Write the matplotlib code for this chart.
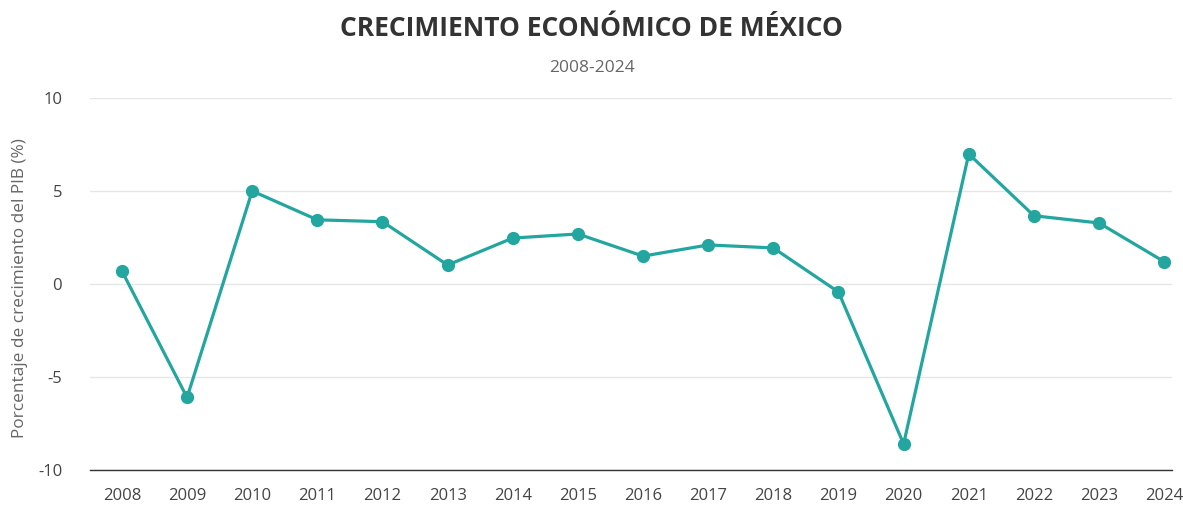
import matplotlib
matplotlib.use('Agg')
import matplotlib.pyplot as plt

years = [2008, 2009, 2010, 2011, 2012, 2013, 2014, 2015, 2016,
         2017, 2018, 2019, 2020, 2021, 2022, 2023, 2024]
growth = [0.7, -6.1, 5.0, 3.45, 3.35, 1.02, 2.47, 2.69, 1.5,
          2.1, 1.94, -0.43, -8.6, 6.99, 3.67, 3.28, 1.2]
yticks = [-10, -5, 0, 5, 10]

plt.rcParams['font.family'] = ['Open Sans', 'DejaVu Sans']
plt.rcParams['axes.unicode_minus'] = False

fig = plt.figure(figsize=(11.83, 5.11), dpi=100)
ax = fig.add_axes([90/1183, 1 - 470/511, (1172-90)/1183, (470-98)/511])

ax.plot(years, growth, color='#22a69f', linewidth=2.3, marker='o',
        markersize=8.5, zorder=3, clip_on=False)

ax.set_xlim(2007.51, 2024.12)
ax.set_ylim(-10, 10)
ax.set_xticks(years)
ax.set_xticklabels([str(y) for y in years])
ax.set_yticks(yticks)
ax.grid(axis='y', color='#e6e6e6', linewidth=1)
ax.set_axisbelow(True)
for s in ['top', 'right', 'left']:
    ax.spines[s].set_visible(False)
ax.spines['bottom'].set_color('#333333')
ax.spines['bottom'].set_linewidth(1)
ax.tick_params(axis='both', length=0, labelsize=12, colors='#444444')
ax.tick_params(axis='x', pad=13)
ax.tick_params(axis='y', pad=20)

ax.set_ylabel('Porcentaje de crecimiento del PIB (%)', fontsize=12.4,
              color='#666666')
ax.yaxis.set_label_coords(-62/1082, 0.49)

fig.text(0.5, 1 - 29/511, 'CRECIMIENTO ECONÓMICO DE MÉXICO', ha='center',
         va='center', fontsize=19, fontweight='bold', color='#333333')
fig.text(0.5, 1 - 68/511, '2008-2024', ha='center', va='center',
         fontsize=12.5, color='#666666')

fig.savefig('out.png', dpi=100)
